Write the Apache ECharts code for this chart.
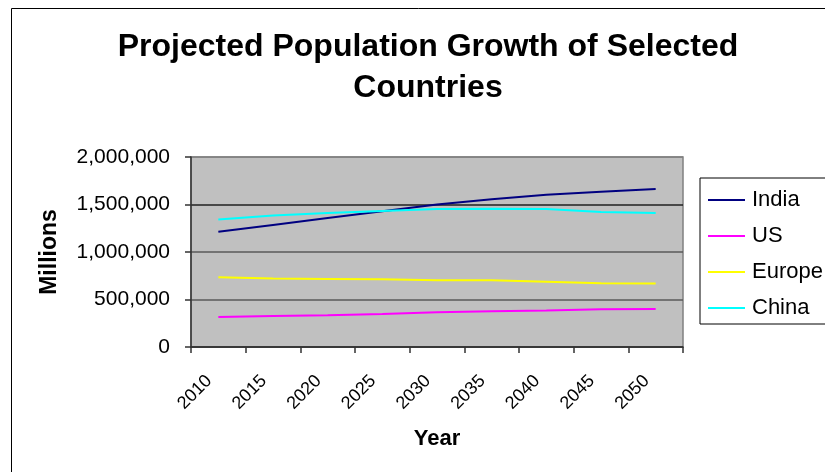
<!DOCTYPE html>
<html>
<head>
<meta charset="utf-8">
<script src="https://cdn.jsdelivr.net/npm/echarts@6/dist/echarts.min.js"></script>
<style>
html,body{margin:0;padding:0;background:#fff;}
#chart{width:825px;height:472px;}
</style>
</head>
<body>
<div id="chart"></div>
<script>
const years = ['2010','2015','2020','2025','2030','2035','2040','2045','2050'];
const india = [1212000, 1285000, 1357000, 1430000, 1501000, 1555000, 1603000, 1633000, 1663000];
const us = [316000, 327000, 334000, 348000, 366000, 376000, 383000, 397000, 400000];
const europe = [735000, 722000, 717000, 714000, 703000, 703000, 686000, 670000, 668000];
const china = [1343000, 1383000, 1410000, 1432000, 1453000, 1455000, 1453000, 1420000, 1410000];
const seriesNames = ['India', 'US', 'Europe', 'China'];
const seriesColors = ['#000080', '#FF00FF', '#FFFF00', '#00FFFF'];
const seriesData = [india, us, europe, china];

function fmt(v){ return String(v).replace(/\B(?=(\d{3})+(?!\d))/g, ','); }

const chart = echarts.init(document.getElementById('chart'), null, {renderer:'canvas'});
chart.setOption({
  animation: false,
  backgroundColor: '#ffffff',
  title: {
    text: 'Projected Population Growth of Selected\nCountries',
    left: 423,
    top: 22,
    textAlign: 'center',
    textStyle: {fontFamily: 'Liberation Sans, Arial, sans-serif', fontSize: 32, fontWeight: 'bold', color: '#000', lineHeight: 41}
  },
  graphic: [{
    type: 'rect',
    shape: {x: 11.5, y: 8.5, width: 840, height: 490},
    style: {fill: 'none', stroke: '#000', lineWidth: 1},
    silent: true
  }],
  legend: {
    orient: 'vertical',
    left: 700,
    top: 178,
    padding: [11, 12, 5, 8],
    itemGap: 14,
    itemWidth: 37,
    itemHeight: 2,
    icon: 'rect',
    borderColor: '#000',
    borderWidth: 1,
    backgroundColor: '#fff',
    textStyle: {fontFamily: 'Liberation Sans, Arial, sans-serif', fontSize: 22, color: '#000', padding: [0,0,0,2]},
    data: seriesNames
  },
  grid: {
    left: 191, right: 142, top: 157, bottom: 125,
    show: true,
    backgroundColor: '#C0C0C0',
    borderColor: '#808080',
    borderWidth: 1.5
  },
  xAxis: {
    type: 'category',
    data: years,
    boundaryGap: true,
    name: 'Year',
    nameLocation: 'middle',
    nameGap: 81,
    nameTextStyle: {fontFamily: 'Liberation Sans, Arial, sans-serif', fontSize: 22, fontWeight: 'bold', color: '#000'},
    axisLine: {show: true, lineStyle: {color: '#333', width: 1.5}},
    axisTick: {show: true, length: 6, alignWithLabel: false, lineStyle: {color: '#333', width: 1.5}},
    axisLabel: {rotate: 45, margin: 22, padding: [0, 13, 0, 0], fontFamily: 'Liberation Sans, Arial, sans-serif', fontSize: 18, color: '#000', interval: 0}
  },
  yAxis: {
    type: 'value',
    min: 0, max: 2000000, interval: 500000,
    name: 'Millions',
    nameLocation: 'middle',
    nameGap: 130,
    nameRotate: 90,
    nameTextStyle: {fontFamily: 'Liberation Sans, Arial, sans-serif', fontSize: 23, fontWeight: 'bold', color: '#000'},
    axisLine: {show: true, lineStyle: {color: '#333', width: 1.5}},
    axisTick: {show: true, length: 6, lineStyle: {color: '#333', width: 1.5}},
    axisLabel: {margin: 21, fontFamily: 'Liberation Sans, Arial, sans-serif', fontSize: 21, color: '#000', formatter: fmt},
    splitLine: {show: true, lineStyle: {color: ['#333', '#5a5a5a', '#5a5a5a', '#202020', '#808080'], width: 1.5}}
  },
  series: seriesNames.map((n, i) => ({
    name: n,
    type: 'line',
    data: seriesData[i],
    showSymbol: false,
    symbol: 'none',
    smooth: false,
    lineStyle: {color: seriesColors[i], width: 2},
    itemStyle: {color: seriesColors[i]}
  }))
});
</script>
</body>
</html>
